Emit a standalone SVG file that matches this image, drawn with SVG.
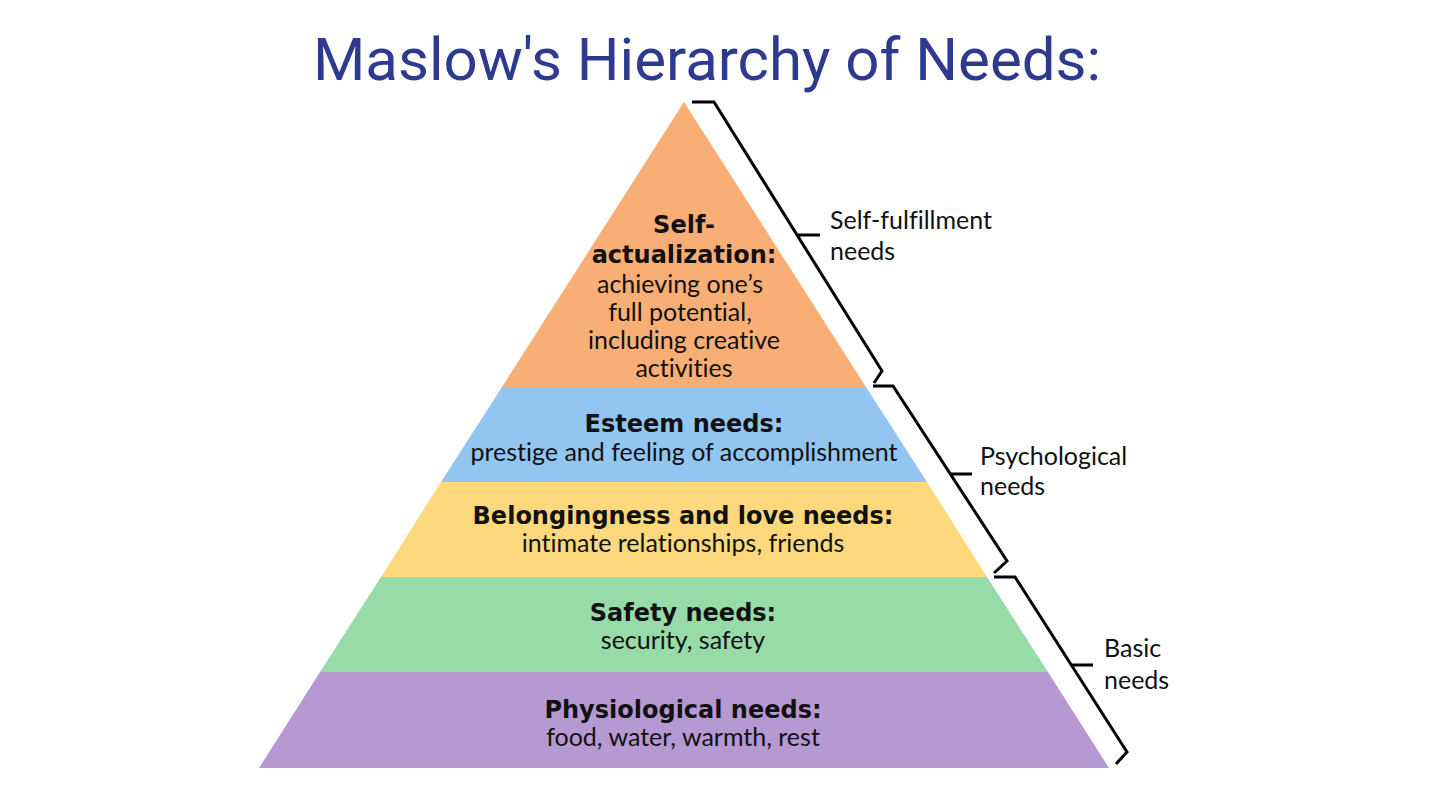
<svg xmlns="http://www.w3.org/2000/svg" width="1432" height="802" viewBox="0 0 1432 802">
<style>
.title{font-family:Roboto,"Liberation Sans",sans-serif;font-size:60px;fill:#2d3a8f}
.b{font-family:"DejaVu Sans",Lato,sans-serif;font-weight:bold;font-size:24px;fill:#111;text-anchor:middle}
.r{font-family:Lato,"Open Sans",sans-serif;font-size:25px;fill:#111;text-anchor:middle;font-variant-ligatures:none}
.l{font-family:Lato,"Open Sans",sans-serif;font-size:25px;fill:#111;font-variant-ligatures:none}
.br{fill:none;stroke:#000;stroke-width:3;stroke-linejoin:miter}
</style>
<rect width="1432" height="802" fill="#fff"/>
<text class="title" x="707" y="80" text-anchor="middle">Maslow's Hierarchy of Needs:</text>
<g id="self-actualization">
<polygon points="684,102 866,387 502,387" fill="#f8ae74"/>
<text class="b" x="684" y="233">Self-</text>
<text class="b" x="684" y="263">actualization:</text>
<text class="r" x="680" y="293">achieving one’s</text>
<text class="r" x="680" y="321">full potential,</text>
<text class="r" x="684" y="349">including creative</text>
<text class="r" x="684" y="377">activities</text>
</g>
<g id="esteem">
<polygon points="502,387 866,387 927,482 441,482" fill="#92c5f0"/>
<text class="b" x="684" y="432">Esteem needs:</text>
<text class="r" x="684" y="461">prestige and feeling of accomplishment</text>
</g>
<g id="belonging">
<polygon points="441,482 927,482 987,577 381,577" fill="#fdd87d"/>
<text class="b" x="683" y="524">Belongingness and love needs:</text>
<text class="r" x="683" y="552">intimate relationships, friends</text>
</g>
<g id="safety">
<polygon points="381,577 987,577 1048,672 320,672" fill="#96dba8"/>
<text class="b" x="683" y="621">Safety needs:</text>
<text class="r" x="683" y="649">security, safety</text>
</g>
<g id="physiological">
<polygon points="320,672 1048,672 1109,768 259,768" fill="#b698d3"/>
<text class="b" x="683" y="718">Physiological needs:</text>
<text class="r" x="683" y="746">food, water, warmth, rest</text>
</g>
<g id="connectors">
<path class="br" d="M692,102 H714 L882,371 L874,383 M797,235 H820"/>
<path class="br" d="M873,386 H893 L1007,561 L994,573 M950,474 H972"/>
<path class="br" d="M994,577 H1015 L1127,752 L1116,764 M1072,665 H1093"/>
</g>
<g id="label-self-fulfillment">
<text class="l" x="830" y="229">Self-fulfillment</text>
<text class="l" x="830" y="260">needs</text>
</g>
<g id="label-psychological">
<text class="l" x="980" y="465">Psychological</text>
<text class="l" x="980" y="495">needs</text>
</g>
<g id="label-basic">
<text class="l" x="1104" y="657">Basic</text>
<text class="l" x="1104" y="689">needs</text>
</g>
</svg>
